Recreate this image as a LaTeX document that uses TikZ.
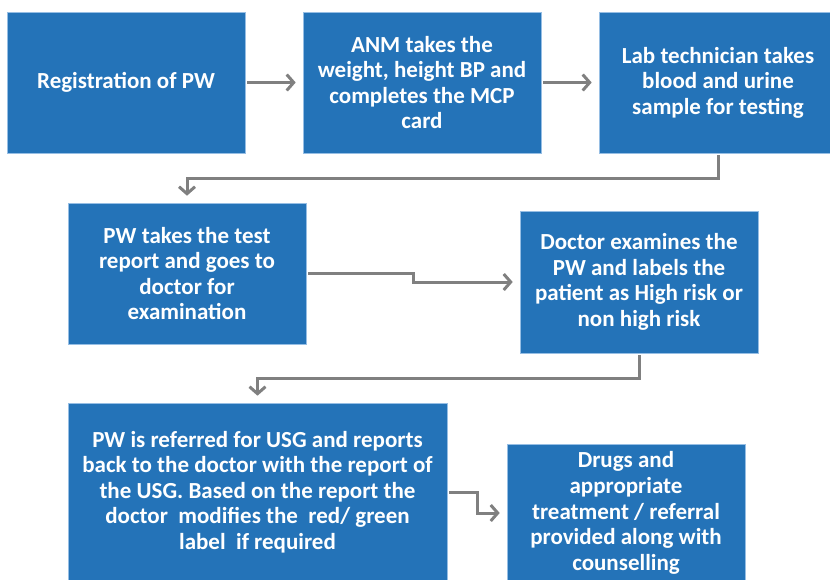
\documentclass[tikz,border=0pt]{standalone}
\usepackage{fontspec}
\setmainfont{Carlito}
\usetikzlibrary{arrows.meta,calc}
\definecolor{boxblue}{RGB}{36,115,184}
\definecolor{boxedge}{RGB}{150,190,228}
\definecolor{arrowgray}{RGB}{128,128,128}
\tikzset{
  stepbox/.style={rectangle, fill=boxblue, draw=boxedge, line width=0.6pt, inner sep=0pt,
    text=white, align=center, font=\fontsize{23}{25.6}\selectfont\bfseries},
  flow/.style={draw=arrowgray, line width=3pt, -{Straight Barb[length=7pt,width=16pt]},
    shorten <=2pt, shorten >=7pt}
}
\begin{document}
\begin{tikzpicture}[x=1pt,y=-1pt]
\useasboundingbox (0,0) rectangle (830,579);
\clip (0,0) rectangle (830,579);
\node[stepbox, minimum width=238, minimum height=141] (bx1) at (126,82.5){Registration of PW};
\node[stepbox, minimum width=238, minimum height=141] (bx2) at (422,82.5){ANM takes the\\weight, height BP and\\completes the MCP\\card};
\node[stepbox, minimum width=238, minimum height=141] (bx3) at (718,82.5){Lab technician takes\\blood and urine\\sample for testing};
\node[stepbox, minimum width=238, minimum height=141] (bx4) at (187,273.5){PW takes the test\\report and goes to\\doctor for\\examination};
\node[stepbox, minimum width=238, minimum height=142] (bx5) at (639,282){Doctor examines the\\PW and labels the\\patient as High risk or\\non high risk};
\node[stepbox, minimum width=379, minimum height=178] (bx6) at (257.5,492){PW is referred for USG and reports\\back to the doctor with the report of\\the USG. Based on the report the\\doctor~ modifies the~ red/ green\\label~ if required};
\node[stepbox, minimum width=238, minimum height=138] (bx7) at (626,513){Drugs and\\appropriate\\treatment / referral\\provided along with\\counselling};
\draw[flow](bx1) -- (bx2);
\draw[flow](bx2) -- (bx3);
\coordinate (m34) at ($(bx3.south)!0.5!(bx4.north)$);
\draw[flow](bx3.south) |- (m34) -| (bx4.north);
\coordinate (m45) at ($(bx4.east)!0.5!(bx5.west)$);
\draw[flow](bx4.east) -| (m45) |- (bx5.west);
\coordinate (m56) at ($(bx5.south)!0.5!(bx6.north)$);
\draw[flow](bx5.south) |- (m56) -| (bx6.north);
\coordinate (m67) at ($(bx6.east)!0.5!(bx7.west)$);
\draw[flow](bx6.east) -| (m67) |- (bx7.west);
\end{tikzpicture}
\end{document}
